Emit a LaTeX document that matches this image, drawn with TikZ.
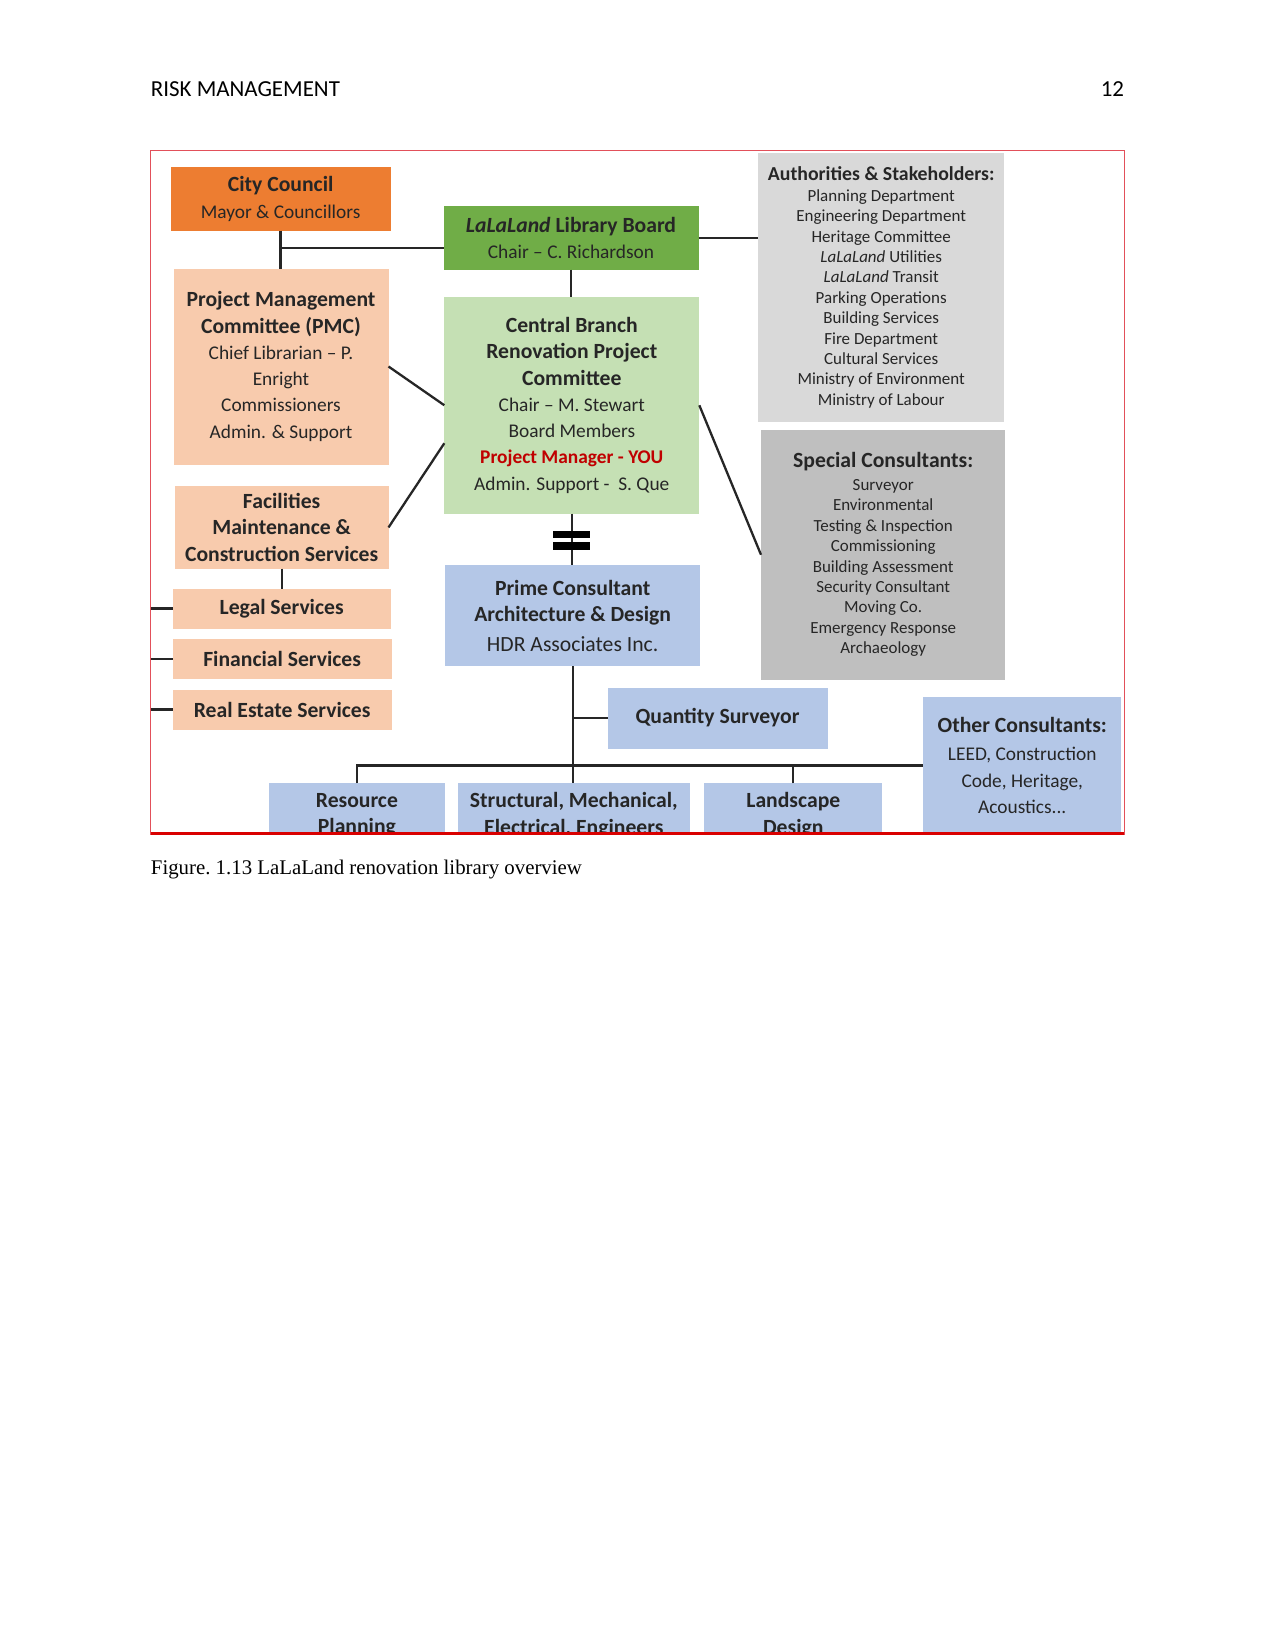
\documentclass[tikz,border=0pt]{standalone}
\usepackage{fontspec}
\setmainfont{Carlito}
\newfontfamily\capfont{Liberation Serif}
\usetikzlibrary{calc}
\definecolor{orng}{RGB}{237,125,49}
\definecolor{peach}{RGB}{248,203,173}
\definecolor{dgreen}{RGB}{112,173,71}
\definecolor{lgreen}{RGB}{197,224,180}
\definecolor{lblue}{RGB}{180,199,231}
\definecolor{lgray}{RGB}{217,217,217}
\definecolor{mgray}{RGB}{191,191,191}
\definecolor{pmred}{RGB}{192,0,0}
\definecolor{framered}{RGB}{226,80,90}
\newcommand\hd[1]{{\fontsize{10.4}{12.6}\selectfont\bfseries #1}}
\newcommand\hdsm[1]{{\fontsize{9.5}{12.6}\selectfont\bfseries #1}}
% \bx[options]{x1}{y1}{x2}{y2}{name}{text}
\newcommand\bx[7][]{\node[box,#1,minimum width={(#4-#2)*0.48pt},
  minimum height={(#5-#3)*0.48pt}] (#6) at ({(#2+#4)/2},{(#3+#5)/2}) {#7};}
\begin{document}
\begin{tikzpicture}[x=0.48pt,y=-0.48pt,
  box/.style={inner sep=0pt, outer sep=0pt, align=center, text=black!85,
    font=\fontsize{9.3}{12.6}\selectfont},
  smallbox/.style={box, font=\fontsize{8.15}{9.8}\selectfont},
  conn/.style={line width=1.1pt, draw=black!85}]
\useasboundingbox (0,0) rectangle (1275,1651);
\fill[white] (0,0) rectangle (1275,1651);

% header and caption
\node[anchor=base west, inner sep=0pt, font=\fontsize{11}{13}\selectfont] (hdr) at (150.5,96.9) {RISK MANAGEMENT};
\node[anchor=base east, inner sep=0pt, font=\fontsize{11}{13}\selectfont] (pg) at (1124.4,96.9) {12};
\node[anchor=base west, inner sep=0pt, font=\capfont\fontsize{10}{12}\selectfont] (cap) at (150.5,874) {\frenchspacing Figure. 1.13 LaLaLand renovation library overview};

\bx{150.5}{150.5}{1124.4}{833.8}{frame}{}

\begin{scope}
\clip (150.5,150.5) rectangle (1124.4,833.8);

\bx[fill=orng]{170.6}{167.4}{390.6}{230.6}{council}
  {\hd{City Council}\\Mayor \& Councillors}
\bx[fill=dgreen]{443.5}{206.3}{698.5}{269.5}{board}
  {\hd{\textit{LaLaLand} Library Board}\\Chair -- C. Richardson}
\bx[fill=peach]{173.5}{268.5}{388.5}{464.5}{pmc}
  {\hd{Project Management}\\\hd{Committee (PMC)}\\Chief Librarian -- P.\\Enright\\Commissioners\\Admin. \& Support}
\bx[fill=lgreen]{444.3}{296.9}{699.3}{513.6}{central}
  {\hd{Central Branch}\\\hd{Renovation Project}\\\hd{Committee}\\Chair -- M. Stewart\\Board Members\\{\color{pmred}\bfseries Project Manager - YOU}\\Admin. Support -\ \ S. Que}
\bx[smallbox, fill=lgray]{758}{152.7}{1004.4}{422.2}{auth}
  {\hdsm{Authorities \& Stakeholders:}\\Planning Department\\Engineering Department\\Heritage Committee\\\textit{LaLaLand} Utilities\\\textit{LaLaLand} Transit\\Parking Operations\\Building Services\\Fire Department\\Cultural Services\\Ministry of Environment\\Ministry of Labour}
\bx[smallbox, fill=mgray]{761}{429.5}{1005.4}{680}{special}
  {\hd{Special Consultants:}\\[1pt]Surveyor\\Environmental\\Testing \& Inspection\\Commissioning\\Building Assessment\\Security Consultant\\Moving Co.\\Emergency Response\\Archaeology}
\bx[fill=peach]{174.8}{486.4}{388.5}{568.5}{fac}
  {\hd{Facilities}\\\hd{Maintenance \&}\\\hd{Construction Services}}
\bx[fill=peach]{172.7}{588.5}{390.6}{628.5}{legal}{\hd{Legal Services}}
\bx[fill=peach]{172.7}{639}{391.6}{679}{financial}{\hd{Financial Services}}
\bx[fill=peach]{172.7}{689.6}{391.6}{729.6}{realestate}{\hd{Real Estate Services}}
\bx[fill=lblue]{445.3}{565.4}{700}{666.4}{prime}
  {\hd{Prime Consultant}\\\hd{Architecture \& Design}\\[1.5pt]{\fontsize{10.4}{12.6}\selectfont HDR Associates Inc.}}
\bx[fill=lblue]{607.5}{687.5}{827.5}{748.5}{qs}{\hd{Quantity Surveyor}}
\bx[fill=lblue]{923.3}{697}{1121.2}{833.8}{other}
  {\hd{Other Consultants:}\\[1pt]LEED, Construction\\Code, Heritage,\\Acoustics...}
\bx[fill=lblue]{268.5}{783.3}{445.3}{847}{resource}{\hd{Resource}\\\hd{Planning}}
\bx[fill=lblue]{458}{783.3}{689.6}{847}{structural}{\hd{Structural, Mechanical,}\\\hd{Electrical, Engineers}}
\bx[fill=lblue]{704.3}{783.3}{882.3}{847}{landscape}{\hd{Landscape}\\\hd{Design}}

% connectors
\coordinate (jc) at (280.8,247.7);
\draw[conn] (council.south) -- (council.south |- pmc.north);
\draw[conn] (jc) -- (jc -| board.west);
\draw[conn] (board.east) -- (board.east -| auth.west);
\draw[conn] (board.south) -- (board.south |- central.north);
\draw[conn] (pmc.east) -- (central.west);
\draw[conn] (fac.east) -- ($(central.west)+(0,38)$);
\draw[conn] (central.east) -- (special.west);
\draw[conn] (fac.south) -- (fac.south |- legal.north);
\draw[conn] (legal.west) -- (legal.west -| frame.west);
\draw[conn] (financial.west) -- (financial.west -| frame.west);
\draw[conn] (realestate.west) -- (realestate.west -| frame.west);
\draw[conn] (central.south) -- (central.south |- prime.north);
\fill[black] (553.3,531) rectangle (590,538.3);
\fill[black] (553.3,542.3) rectangle (590,550);
\draw[conn] (prime.south) -- (prime.south |- structural.north);
\coordinate (jq) at (prime.south |- qs.west);
\draw[conn] (jq) -- (qs.west);
\draw[conn] (resource.north) |- (other.west);
\draw[conn] (landscape.north) -- (landscape.north |- other.west);
\end{scope}

\draw[framered, line width=0.7pt] (frame.south west) |- (frame.north east) |- cycle;
\draw[red!85!black, line width=1.3pt] (frame.south west) -- (frame.south east);
\end{tikzpicture}
\end{document}
